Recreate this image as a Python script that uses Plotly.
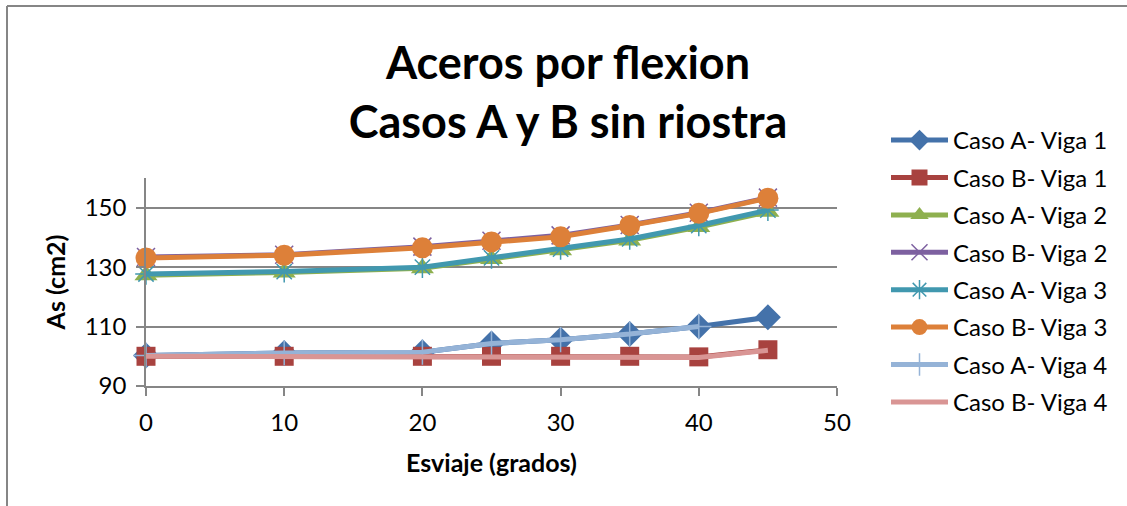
import plotly.graph_objects as go

# ---- data ----
esviaje = [0, 10, 20, 25, 30, 35, 40, 45]
esviaje_a4 = [0, 10, 20, 25, 30, 35, 40]

caso_a_viga1 = [100.3, 101.1, 101.4, 104.3, 105.6, 107.5, 110.0, 113.1]
caso_b_viga1 = [100.0, 100.0, 100.0, 100.0, 100.0, 100.0, 99.8, 102.2]
caso_a_viga2 = [127.3, 128.2, 129.6, 132.7, 135.7, 139.0, 143.5, 148.6]
caso_b_viga2 = [133.4, 134.2, 136.9, 138.9, 140.7, 144.2, 148.3, 153.4]
caso_a_viga3 = [127.7, 128.5, 130.0, 133.1, 136.1, 139.5, 144.0, 149.2]
caso_b_viga3 = [133.1, 134.0, 136.5, 138.5, 140.2, 144.0, 148.1, 153.2]
caso_a_viga4 = [100.3, 101.1, 101.4, 104.3, 105.6, 107.5, 110.0]
caso_b_viga4 = [100.0, 100.0, 100.0, 100.0, 100.0, 100.0, 99.6, 102.0]

names = ["Caso A- Viga 1", "Caso B- Viga 1", "Caso A- Viga 2", "Caso B- Viga 2",
         "Caso A- Viga 3", "Caso B- Viga 3", "Caso A- Viga 4", "Caso B- Viga 4"]

FONT = "Lato"
GRAY = "#868686"

series = [
    (esviaje, caso_a_viga1, "#4472AA", dict(symbol="diamond", size=20)),
    (esviaje, caso_b_viga1, "#A8423F", dict(symbol="square", size=19)),
    (esviaje, caso_a_viga2, "#8EB04F", dict(symbol="triangle-up", size=20)),
    (esviaje, caso_b_viga2, "#7D60A0", dict(symbol="x-thin-open", size=18, line=dict(width=1.5, color="#7D60A0"))),
    (esviaje, caso_a_viga3, "#4198AF", dict(symbol="asterisk-open", size=18, line=dict(width=1.5, color="#4198AF"))),
    (esviaje, caso_b_viga3, "#DD8039", dict(symbol="circle", size=21)),
    (esviaje_a4, caso_a_viga4, "#95B3D7", dict(symbol="cross-thin-open", size=18, line=dict(width=1.5, color="#95B3D7"))),
    (esviaje, caso_b_viga4, "#D99594", None),
]

fig = go.Figure()
for i, (xs, ys, col, mk) in enumerate(series):
    if mk is None:
        fig.add_trace(go.Scatter(x=xs, y=ys, name=names[i], mode="lines", cliponaxis=False,
                                 line=dict(color=col, width=5), legendgroup=str(i)))
    else:
        mk = dict(mk)
        mk.setdefault("color", col)
        fig.add_trace(go.Scatter(x=xs, y=ys, name=names[i], mode="lines+markers", cliponaxis=False,
                                 line=dict(color=col, width=5), marker=mk, legendgroup=str(i)))

L, R, T, B = 146, 1127 - 837, 178, 506 - 386
W, H = 1127, 506
pw, ph = W - L - R, H - T - B

def px_x(p):
    return (p - L) / pw

def px_y(p):
    return (H - B - p) / ph

fig.update_layout(
    width=W, height=H,
    margin=dict(l=L, r=R, t=T, b=B),
    paper_bgcolor="white", plot_bgcolor="white",
    font=dict(family=FONT, color="black"),
    title=dict(text="<b>Aceros por flexion<br>Casos A y B sin riostra</b>",
               x=568 / W, xanchor="center", y=1 - 79 / H, yanchor="top",
               font=dict(size=45, family=FONT, color="black")),
    showlegend=True,
    legend=dict(x=px_x(886), xanchor="left", y=px_y(118), yanchor="top",
                font=dict(size=24, family=FONT, color="black"),
                tracegroupgap=3.2, itemwidth=57, maxheight=480, bgcolor="rgba(0,0,0,0)"),
    xaxis=dict(range=[0, 50], dtick=10, tick0=0, showgrid=False,
               showline=True, linecolor=GRAY, linewidth=1.5,
               ticks="outside", ticklen=8, tickcolor=GRAY, tickwidth=1.5,
               ticklabelstandoff=6,
               tickfont=dict(size=24, family=FONT, color="black"),
               title=dict(text="<b>Esviaje (grados)</b>", font=dict(size=25, family=FONT, color="black"),
                          standoff=20),
               zeroline=False),
    yaxis=dict(range=[90, 160], dtick=20, tick0=90, showgrid=True, gridcolor=GRAY, gridwidth=1.5,
               showline=True, linecolor=GRAY, linewidth=1.5,
               ticks="outside", ticklen=8, tickcolor=GRAY, tickwidth=1.5,
               ticklabelstandoff=5,
               tickfont=dict(size=24, family=FONT, color="black"),
               title=dict(text="<b>As (cm2)</b>", font=dict(size=25, family=FONT, color="black"),
                          standoff=12),
               zeroline=False),
    shapes=[
        dict(type="line", xref="paper", yref="paper", x0=px_x(7), x1=px_x(7), y0=px_y(6), y1=px_y(510),
             line=dict(color=GRAY, width=2)),
        dict(type="line", xref="paper", yref="paper", x0=px_x(7), x1=px_x(1130), y0=px_y(6), y1=px_y(6),
             line=dict(color=GRAY, width=2)),
    ],
)

fig.write_html("out.html", config={"displayModeBar": False},
               post_script="document.body.style.margin='0';document.body.style.overflow='hidden';")
